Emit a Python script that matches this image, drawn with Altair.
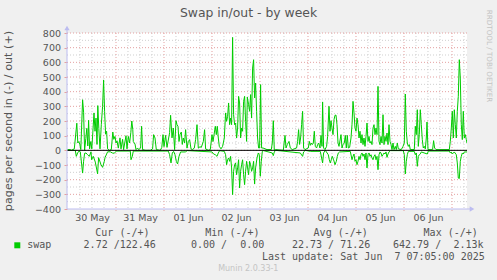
import altair as alt
import pandas as pd

# ---- data (hours since 30 May 00:00, pages/s) ----
out_hours = [-0.3, 1.15, 1.65, 3.15, 4.4, 4.9, 5.4, 5.9, 6.4, 7.3, 7.8, 8.3, 8.9, 9.4, 9.9, 10.3, 10.8, 11.4, 11.9, 12.4,
             13.0, 13.5, 14.0, 14.5, 14.9, 15.4, 16.0, 16.65, 17.3, 17.8, 18.3, 18.8, 19.3, 19.8, 20.65, 21.65, 22.4,
             22.9, 23.5, 24.0, 24.5, 25.15, 26.0, 26.5, 27.3, 27.8, 29.0, 29.5, 30.15, 30.8, 31.4, 31.9, 32.4, 32.65,
             33.5, 34.0, 34.8, 35.3, 36.3, 36.8, 37.3, 38.65, 41.15, 42.3, 42.8, 43.5, 44.15, 46.15, 46.9, 47.5, 48.0,
             48.8, 49.5, 50.15, 50.8, 51.3, 52.0, 52.65, 53.3, 54.0, 54.5, 55.0, 55.5, 56.0, 56.65, 57.15, 57.65, 58.3,
             58.8, 59.5, 60.15, 60.8, 61.5, 62.15, 63.15, 63.8, 64.5, 65.15, 66.0, 66.65, 67.65, 68.3, 68.8, 70.15,
             71.15, 72.0, 72.5, 73.15, 73.65, 74.15, 74.65, 75.15, 75.65, 76.5, 77.3, 78.15, 78.8, 79.3, 79.8, 80.3,
             80.8, 81.3, 81.8, 82.3, 82.8, 83.3, 83.8, 84.3, 84.8, 85.3, 85.8, 86.3, 86.8, 87.3, 87.8, 88.3, 88.8,
             89.3, 89.65, 90.3, 90.8, 91.3, 91.8, 92.3, 92.8, 93.3, 93.8, 94.3, 94.8, 95.3, 95.8, 96.3, 96.8, 97.5,
             99.5, 101.65, 102.15, 102.65, 103.15, 103.8, 107.65, 108.5, 109.0, 109.65, 110.5, 111.15, 112.15, 114.3,
             114.8, 115.3, 115.8, 116.3, 116.8, 117.3, 117.8, 118.5, 120.15, 120.65, 121.15, 121.65, 122.15, 122.65,
             123.15, 123.65, 124.3, 124.8, 125.3, 126.0, 126.5, 127.0, 127.3, 127.8, 128.5, 129.3, 129.8, 130.5,
             131.0, 131.5, 132.0, 132.5, 133.0, 133.5, 134.0, 134.5, 135.0, 135.5, 136.5, 137.0, 137.5, 138.15,
             138.65, 139.15, 139.65, 140.15, 140.8, 141.5, 142.0, 142.5, 143.0, 143.5, 144.0, 144.5, 145.0, 145.5,
             146.0, 146.5, 147.0, 147.5, 148.0, 148.5, 149.0, 149.5, 150.0, 150.5, 151.0, 151.5, 152.0, 152.5,
             153.0, 153.5, 154.0, 154.5, 155.0, 155.5, 156.0, 156.5, 157.0, 157.5, 158.0, 158.5, 159.0, 159.5,
             160.0, 160.5, 161.0, 161.5, 162.0, 162.5, 163.0, 163.65, 164.15, 164.65, 165.15, 166.65, 167.5, 168.15,
             168.65, 169.15, 169.65, 170.15, 170.65, 171.15, 173.15, 173.65, 174.15, 174.65, 175.15, 175.65, 176.15,
             176.65, 177.15, 177.65, 178.15, 178.65, 179.15, 179.5, 180.0, 182.3, 182.8, 183.3, 184.0, 190.65,
             191.15, 191.65, 192.15, 192.65, 193.15, 193.65, 194.15, 194.65, 195.15, 195.65, 196.15, 196.65, 197.15,
             197.65, 198.15, 198.65, 199.15, 199.5]
out_vals = [5, 5, 0, 10, 185, 50, 60, 40, 5, 345, 260, 0, 80, 150, 30, 205, 10, 60, 10, 120,
            255, 130, 220, 40, 305, 150, 10, 175, 300, 480, 265, 110, 130, 10, 0, 5, 125,
            75, 95, 50, 65, 15, 85, 10, 75, 5, 100, 10, 95, 50, 120, 200, 140, 60,
            43, 5, 16, 5, 15, 164, 5, 0, 0, 10, 107, 84, 5, 0, 20, 107, 25,
            102, 20, 70, 120, 239, 85, 152, 5, 202, 175, 164, 60, 107, 125, 40, 84, 50,
            141, 15, 60, 73, 10, 5, 15, 73, 175, 15, 25, 20, 60, 141, 10, 0,
            5, 107, 60, 118, 164, 107, 164, 84, 27, 10, 27, 84, 255, 198, 232, 323,
            175, 220, 175, 770, 243, 175, 186, 84, 152, 368, 323, 84, 152, 130, 334, 368, 198,
            61, 363, 311, 266, 380, 220, 561, 618, 357, 459, 266, 84, 16, 16, 448, 16, 16,
            5, 5, 50, 202, 0, 5, 0, 102, 16, 40, 61, 16, 5, 16,
            61, 141, 40, 84, 175, 266, 16, 5, 16, 61, 34, 50, 39, 50,
            130, 27, 16, 39, 50, 16, 102, 27, 330, 16, 5, 27, 95, 300,
            130, 202, 152, 107, 209, 239, 240, 175, 50, 27, 107, 16, 39, 50,
            102, 16, 102, 16, 20, 84, 175, 334, 255, 152, 130, 220, 175, 84,
            130, 50, 107, 39, 84, 27, 95, 186, 61, 95, 50, 61, 39, 152,
            175, 107, 152, 107, 436, 61, 39, 95, 50, 243, 39, 95, 61, 118,
            39, 175, 61, 39, 5, 50, 5, 27, 5, 50, 10, 5, 27, 50,
            384, 130, 50, 27, 39, 5, 5, 164, 107, 277, 27, 107, 277,
            175, 73, 16, 27, 10, 84, 193, 5, 5, 66, 16, 5, 5,
            61, 152, 266, 84, 277, 175, 84, 266, 368, 618, 493, 175, 73,
            266, 84, 107, 73, 50]

in_hours = [-0.3, 3.65, 4.15, 4.8, 5.5, 6.15, 7.3, 7.8, 8.3, 9.0, 9.8, 10.65, 11.5, 11.8, 12.65, 13.65, 14.8, 15.3,
            16.5, 17.3, 18.15, 18.5, 19.8, 21.15, 22.15, 23.15, 24.15, 31.15, 31.5, 32.15, 32.65, 50.15, 50.8, 51.5,
            52.15, 52.8, 53.5, 54.15, 54.8, 55.5, 56.3, 58.65, 59.65, 72.0, 72.8, 73.65, 74.5, 75.15, 75.8, 78.15,
            78.8, 79.3, 79.8, 80.3, 80.8, 81.3, 81.8, 82.3, 82.8, 83.3, 83.8, 84.3, 84.8, 85.3, 85.8, 86.3, 86.8,
            87.3, 87.8, 88.3, 88.8, 89.3, 89.8, 90.3, 90.8, 91.3, 91.8, 92.3, 92.8, 93.3, 93.8, 94.5, 95.15, 95.65,
            96.15, 96.65, 97.15, 97.8, 102.15, 102.65, 103.15, 103.8, 116.15, 117.3, 117.8, 118.65, 121.15, 126.15,
            127.3, 127.8, 128.65, 130.15, 130.65, 131.15, 131.65, 132.15, 132.8, 133.5, 134.15, 134.65, 135.15,
            135.8, 141.15, 142.0, 142.5, 143.0, 143.5, 144.0, 144.5, 145.0, 145.5, 146.0, 146.5, 147.0, 147.5,
            148.0, 148.5, 149.0, 149.5, 150.0, 150.5, 151.0, 151.5, 152.0, 152.5, 153.0, 153.5, 154.0, 154.5,
            155.0, 155.5, 156.0, 156.5, 157.0, 157.5, 158.0, 158.5, 159.0, 159.5, 160.0, 160.5, 161.15, 167.65,
            168.15, 168.65, 169.15, 169.65, 170.15, 173.15, 173.65, 174.15, 174.65, 175.15, 175.65, 176.15, 176.65,
            179.65, 180.15, 190.65, 191.15, 191.65, 192.15, 192.65, 193.15, 194.15, 194.65, 195.15, 195.65, 196.15,
            196.65, 197.15, 197.65, 198.15, 199.5]
in_vals = [0, 0, 41, 18, 5, 10, 155, 75, 20, 18, 30, 41, 10, 64, 41, 80, 160, 50,
           98, 116, 75, 50, 10, 10, 18, 20, 5, 5, 64, 41, 5, 5, 30, 86,
           18, 7, 30, 75, 93, 41, 11, 11, 2, 11, 25, 30, 41, 18, 2, 7,
           30, 98, 64, 52, 75, 41, 120, 302, 143, 98, 86, 166, 120, 64, 257, 143, 98,
           64, 166, 234, 143, 75, 120, 166, 75, 98, 143, 120, 75, 230, 120, 52, 18, 30,
           177, 75, 7, 2, 18, 36, 11, 0, 18, 41, 11, 0, 7, 7,
           86, 18, 0, 30, 64, 86, 64, 41, 64, 98, 75, 41, 18,
           11, 7, 64, 41, 25, 75, 64, 98, 75, 41, 64, 30, 18, 41,
           25, 64, 18, 120, 30, 18, 41, 30, 52, 64, 41, 30, 64, 41,
           132, 30, 11, 18, 41, 30, 18, 25, 11, 48, 25, 11, 2, 2,
           30, 161, 75, 30, 7, 7, 30, 18, 109, 41, 30, 25, 11,
           25, 5, 5, 18, 11, 25, 18, 11, 30, 86, 189, 193, 75,
           41, 18, 25, 11, 11]

day_labels = ["30 May", "31 May", "01 Jun", "02 Jun", "03 Jun", "04 Jun", "05 Jun", "06 Jun"]
y_ticks = list(range(-400, 801, 100))

stat_headers = ["Cur (-/+)", "Min (-/+)", "Avg (-/+)", "Max (-/+)"]
series_name = "swap"
last_update = ["Last update: Sat Jun", "7 07:05:00 2025"]

# ---- styling ----
W, H = 400, 176
GREEN = "#00CC00"
MAJOR = "#E4A0A0"
MINOR = "#CFCFCF"
AXIS = "#BCBCF0"
TXT = "#555555"

df = pd.concat([
    pd.DataFrame({"hour": out_hours, "value": out_vals, "dir": "out"}),
    pd.DataFrame({"hour": in_hours, "value": [-v for v in in_vals], "dir": "in"}),
])

xscale = alt.Scale(domain=[-0.5, 199.5], nice=False, zero=False)
yscale = alt.Scale(domain=[-400, 800], nice=False, zero=False)
noon_hours = [24 * i + 12 for i in range(len(day_labels))]
label_expr = "[" + ",".join(f"'{d}'" for d in day_labels) + "][floor(datum.value / 24)]"

xaxis = alt.Axis(values=noon_hours, labelExpr=label_expr, ticks=False, tickSize=0, domain=False,
                 grid=False, labelPadding=3, labelFontSize=9.5, labelFont="DejaVu Sans",
                 labelColor=TXT, title=None, labelAngle=0)
yaxis = alt.Axis(values=y_ticks, ticks=True, tickSize=3, tickColor=MAJOR, domain=False, grid=False,
                 labelPadding=3.5, labelFontSize=9.5, labelFont="DejaVu Sans", labelColor=TXT, title=None)


def X(f):
    return alt.X(f, scale=xscale, axis=xaxis)


def Y(f):
    return alt.Y(f, scale=yscale, axis=yaxis)


dummy = pd.DataFrame({"value": [0]})

minor_v = alt.Chart(pd.DataFrame({"hour": [h for h in range(6, 200, 6) if h % 24]})).mark_rule(
    color=MINOR, strokeDash=[1, 2]).encode(x=X("hour:Q"), y=alt.value(0), y2=alt.value(H))
minor_h = alt.Chart(pd.DataFrame({"value": [v + 50 for v in y_ticks[:-1]]})).mark_rule(
    color=MINOR, strokeDash=[1, 2]).encode(y=Y("value:Q"), x=alt.value(0), x2=alt.value(W))
major_v = alt.Chart(pd.DataFrame({"hour": [24 * i for i in range(1, 9)]})).mark_rule(
    color=MAJOR, strokeDash=[1, 2]).encode(x=X("hour:Q"), y=alt.value(0), y2=alt.value(H + 3))
major_h = alt.Chart(pd.DataFrame({"value": y_ticks[1:]})).mark_rule(
    color=MAJOR, strokeDash=[1, 2]).encode(y=Y("value:Q"), x=alt.value(0), x2=alt.value(W))

lines = alt.Chart(df).mark_line(color=GREEN, strokeWidth=1, clip=True).encode(
    x=X("hour:Q"), y=Y("value:Q"), detail="dir:N", order="hour:Q")

zero = alt.Chart(dummy).mark_rule(color="#000000", strokeWidth=1).encode(
    y=Y("value:Q"), x=alt.value(0), x2=alt.value(W))

axis_left = alt.Chart(dummy).mark_rule(color=AXIS, strokeWidth=1).encode(
    x=alt.value(0), y=alt.value(-4), y2=alt.value(H))
axis_bottom = alt.Chart(dummy).mark_rule(color=AXIS, strokeWidth=1).encode(
    y=alt.value(H), x=alt.value(0), x2=alt.value(W + 4))
arrow_up = alt.Chart(dummy).mark_point(shape="triangle-up", filled=True, size=28, color=AXIS, opacity=1).encode(
    x=alt.value(0), y=alt.value(-5))
arrow_right = alt.Chart(dummy).mark_point(shape="triangle-right", filled=True, size=28, color=AXIS, opacity=1).encode(
    x=alt.value(W + 5), y=alt.value(H))


def txt(s, x, y, size=10, font="DejaVu Sans Mono", color=TXT, align="left", angle=0):
    return alt.Chart(dummy).mark_text(text=s, font=font, fontSize=size, color=color, align=align,
                                      baseline="middle", angle=angle).encode(x=alt.value(x), y=alt.value(y))


texts = [
    txt("Swap in/out - by week", 181.5, -20, size=12.4, font="DejaVu Sans", align="center"),
    txt("pages per second in (-) / out (+)", -57.7, 88, size=11.2, font="DejaVu Sans", align="center", angle=270),
    txt("RRDTOOL / TOBI OETIKER", 421.6, 23, size=7.2, font="DejaVu Sans", color="#C4C4C4", align="center", angle=90),
    txt(stat_headers[0], 28.3, 200),
    txt(stat_headers[1], 138.3, 200),
    txt(stat_headers[2], 246.6, 200),
    txt(stat_headers[3], 356.6, 200),
    txt(series_name, -39.7, 212.3),
    txt("2.72 /122.46", 16.6, 212.3),
    txt("0.00 /", 124, 212.3),
    txt("0.00", 197.3, 212.3, align="right"),
    txt("22.73 / 71.26", 225, 212.3),
    txt("642.79 /", 326, 212.3),
    txt("2.13k", 416.6, 212.3, align="right"),
    txt(last_update[0], 195, 224),
    txt(last_update[1], 327.4, 224),
    txt("Munin 2.0.33-1", 181.3, 235.5, size=8, font="DejaVu Sans", color="#C4C4C4", align="center"),
]

legend_sq = alt.Chart(dummy).mark_square(size=36, color=GREEN, filled=True, opacity=1).encode(
    x=alt.value(-49.7), y=alt.value(212.3))

chart = alt.layer(
    minor_v, minor_h, major_v, major_h, lines, zero, axis_left, axis_bottom, arrow_up, arrow_right,
    legend_sq, *texts
).properties(
    width=W, height=H, autosize="none",
    padding={"left": 67, "top": 33, "right": 30, "bottom": 71},
).configure(background="#F0F0F0").configure_view(fill="white", stroke=None)

chart.save("out.html", embed_options={"renderer": "svg", "actions": False})
